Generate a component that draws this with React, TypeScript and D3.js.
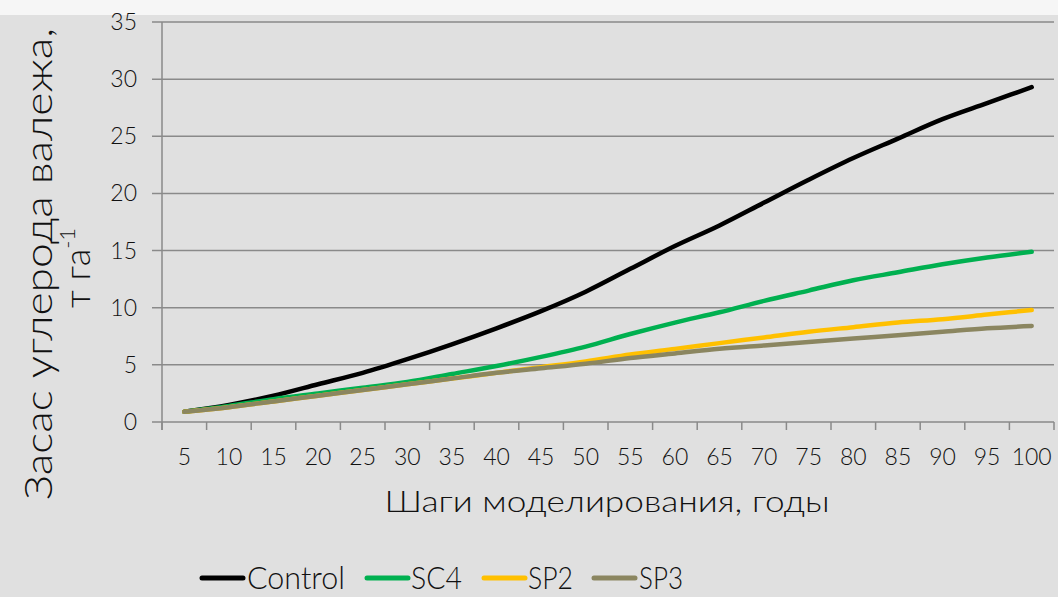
import React from "react";
import * as d3 from "d3";

const categories = ["5","10","15","20","25","30","35","40","45","50","55","60","65","70","75","80","85","90","95","100"];
const controlValues = [0.9,1.5,2.3,3.3,4.3,5.5,6.8,8.2,9.7,11.4,13.4,15.4,17.2,19.2,21.2,23.1,24.8,26.5,27.9,29.3];
const sc4Values = [0.9,1.4,2.0,2.5,3.0,3.5,4.2,4.9,5.7,6.6,7.7,8.7,9.6,10.6,11.5,12.4,13.1,13.8,14.4,14.9];
const sp2Values = [0.9,1.3,1.8,2.3,2.8,3.3,3.8,4.3,4.8,5.3,5.9,6.4,6.9,7.4,7.9,8.3,8.7,9.0,9.4,9.8];
const sp3Values = [0.9,1.3,1.8,2.3,2.8,3.3,3.8,4.3,4.7,5.1,5.6,6.0,6.4,6.7,7.0,7.3,7.6,7.9,8.2,8.4];
const yTicks = [0,5,10,15,20,25,30,35];
const seriesNames = ["Control","SC4","SP2","SP3"];
const seriesColors = ["#000000","#00b050","#ffc000","#8b8660"];

const W = 1058, H = 597;
const left = 162, right = 1054, top = 22, bottom = 422;
const FONT = "Lato, 'Open Sans', sans-serif";

export default function App() {
  const x = d3.scaleBand<string>().domain(categories).range([left, right]);
  const y = d3.scaleLinear().domain([0, 35]).range([bottom, top]);
  const series = [controlValues, sc4Values, sp2Values, sp3Values];
  const line = d3.line<number>()
    .x((_, i) => (x(categories[i]) as number) + x.bandwidth() / 2)
    .y((d) => y(d))
    .curve(d3.curveMonotoneX);

  const legendItems = [
    { lx: 202, tx: 247, tw: 98 },
    { lx: 367, tx: 411, tw: 51 },
    { lx: 484, tx: 528, tw: 45 },
    { lx: 594, tx: 639, tw: 44 },
  ];

  return (
    <svg width={W} height={H} style={{ position: "absolute", left: 0, top: 0 }} fontFamily={FONT} fontWeight={300}>
      <rect x={0} y={0} width={W} height={H} fill="#e0e0e0" />
      <rect x={0} y={0} width={W} height={15} fill="#f6f6f6" />
      {/* gridlines */}
      {yTicks.map((t) => (
        <g key={t}>
          <line x1={152} x2={right} y1={y(t)} y2={y(t)} stroke="#8a8a8a" strokeWidth={1.5} />
          <text x={137} y={y(t) + 8} textAnchor="end" fontSize={23} fill="#111">{t}</text>
        </g>
      ))}
      {/* y axis */}
      <line x1={left} x2={left} y1={top} y2={bottom + 8} stroke="#8a8a8a" strokeWidth={1.5} />
      {/* x ticks */}
      {categories.concat(["end"]).map((c, i) => {
        const xx = i < categories.length ? (x(c) as number) : right;
        return <line key={"t" + i} x1={xx} x2={xx} y1={bottom} y2={bottom + 8} stroke="#8a8a8a" strokeWidth={1.5} />;
      })}
      {categories.map((c) => (
        <text key={"l" + c} x={(x(c) as number) + x.bandwidth() / 2} y={465} textAnchor="middle" fontSize={23} fill="#111">{c}</text>
      ))}
      {/* series */}
      {series.map((s, i) => (
        <path key={seriesNames[i]} d={line(s) || ""} fill="none" stroke={seriesColors[i]} strokeWidth={4.5} strokeLinecap="round" strokeLinejoin="round" />
      ))}
      {/* axis titles */}
      <text x={607} y={512} textAnchor="middle" fontSize={30} fill="#111" textLength={445} lengthAdjust="spacingAndGlyphs">Шаги моделирования, годы</text>
      <g transform="translate(52,264) rotate(-90)">
        <text x={0} y={0} textAnchor="middle" fontSize={38} fill="#111" textLength={472} lengthAdjust="spacingAndGlyphs">Засас углерода валежа,</text>
      </g>
      <g transform="translate(90,268) rotate(-90)">
        <text x={0} y={0} textAnchor="middle" fontSize={36} fill="#111">т га<tspan fontSize={22} dy={-15}>-1</tspan></text>
      </g>
      {/* legend */}
      {legendItems.map((it, i) => (
        <g key={"lg" + i}>
          <line x1={it.lx} x2={it.lx + 41} y1={578} y2={578} stroke={seriesColors[i]} strokeWidth={5} strokeLinecap="round" />
          <text x={it.tx} y={589} fontSize={31} fill="#111" textLength={it.tw} lengthAdjust="spacingAndGlyphs">{seriesNames[i]}</text>
        </g>
      ))}
    </svg>
  );
}
